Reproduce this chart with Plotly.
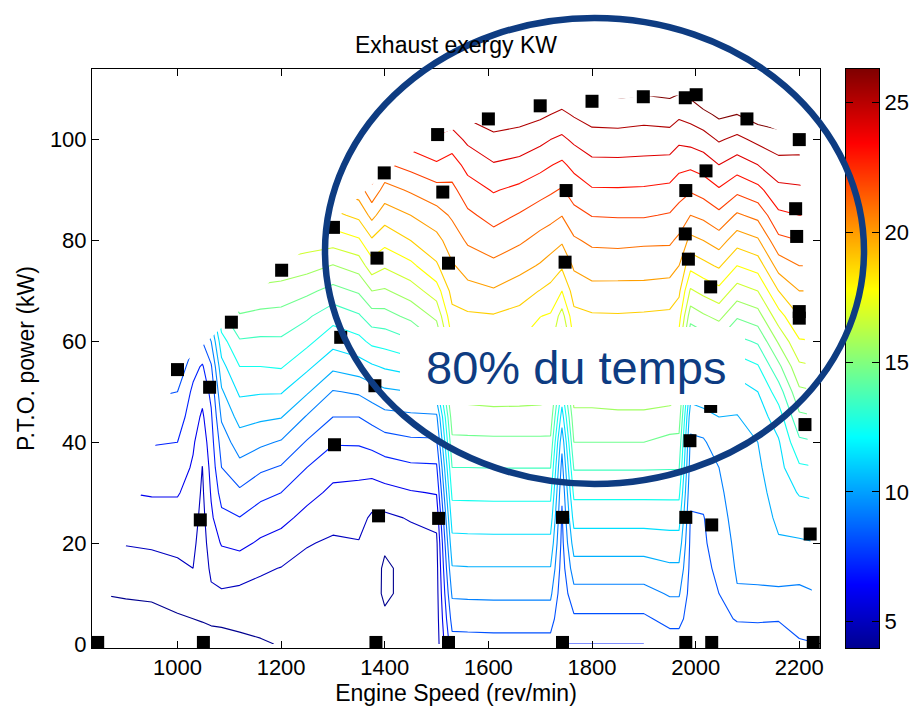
import numpy as np
import plotly.graph_objects as go

# ---------------- data ----------------
# grid of engine speeds (rev/min) and PTO power (kW) for the exergy field
speed_grid = [840, 900, 950, 1000, 1030, 1048, 1065, 1085, 1120, 1160, 1200, 1250,
              1300, 1350, 1375, 1400, 1450, 1500, 1530, 1560, 1610, 1660, 1700, 1720,
              1742, 1765, 1800, 1850, 1900, 1950, 1968, 1990, 2015, 2045, 2080, 2120,
              2160, 2200, 2240]
power_grid = [0, 5, 10, 15, 20, 25, 30, 35, 40, 45, 50, 55, 60, 65, 70, 75, 80, 85,
              90, 95, 100, 105, 110]

# exhaust exergy (kW) estimated at each power_grid value, one list per speed
exergy_by_speed = [
    [3.98, 4.5, 5.0, 5.5, 6.0, 6.5, 7.0, 7.5, 8.0, 8.5, 9.0, 9.5, 10.1, 10.8, 11.5, 12.2, 12.9, 13.6, 14.3, 15.0, 15.7, 16.4, 17.1],
    [4.16, 4.63, 5.10, 5.58, 6.05, 6.52, 7.0, 7.5, 8.0, 8.5, 9.0, 9.6, 10.3, 11.0, 11.7, 12.4, 13.1, 13.8, 14.5, 15.2, 15.9, 16.6, 17.3],
    [4.34, 4.78, 5.11, 5.66, 6.12, 6.6, 7.08, 7.57, 8.07, 8.59, 9.13, 9.75, 10.4, 11.1, 11.8, 12.5, 13.2, 13.9, 14.6, 15.3, 16.0, 16.7, 17.4],
    [4.44, 4.9, 5.36, 5.82, 6.25, 6.66, 7.07, 7.54, 8.0, 8.5, 9.0, 9.83, 10.67, 11.5, 12.3, 13.1, 13.9, 14.7, 15.5, 16.3, 17.1, 17.9, 18.7],
    [4.5, 5.0, 5.5, 6.0, 6.22, 6.43, 6.65, 6.87, 7.13, 7.47, 7.8, 8.33, 9.2, 10.2, 11.1, 12.0, 12.9, 13.8, 14.7, 15.6, 16.5, 17.4, 18.3],
    [4.87, 5.02, 5.2, 5.37, 5.53, 5.68, 5.83, 5.98, 6.39, 6.83, 7.33, 7.89, 9.0, 10.25, 11.4, 12.5, 13.6, 14.7, 15.8, 16.9, 18.0, 19.0, 20.0],
    [4.54, 5.18, 5.82, 6.21, 6.53, 6.82, 7.1, 7.35, 7.6, 7.85, 8.25, 8.88, 10.0, 11.25, 12.4, 13.5, 14.6, 15.7, 16.8, 17.9, 19.0, 20.1, 21.2],
    [4.56, 5.23, 5.89, 6.48, 7.07, 7.73, 8.38, 9.0, 9.44, 10.14, 10.86, 11.67, 12.6, 13.75, 14.8, 15.8, 16.8, 17.8, 18.8, 19.8, 20.8, 21.8, 22.8],
    [4.76, 5.27, 5.78, 6.46, 7.25, 7.97, 8.83, 9.68, 10.53, 11.35, 12.17, 13.0, 13.91, 14.9, 15.9, 17.0, 18.0, 19.0, 20.0, 21.0, 22.0, 23.0, 24.0],
    [4.91, 5.3, 5.69, 6.14, 6.86, 7.53, 8.27, 9.2, 10.2, 11.18, 12.09, 13.0, 13.83, 14.73, 15.7, 16.78, 17.8, 18.9, 20.0, 21.0, 22.0, 23.0, 24.0],
    [5.05, 5.36, 5.67, 5.97, 6.6, 7.29, 8.0, 8.91, 9.9, 11.05, 12.08, 13.08, 13.85, 14.67, 15.58, 16.65, 17.8, 18.9, 20.0, 21.0, 22.0, 23.0, 24.0],
    [5.2, 5.35, 5.5, 5.73, 6.06, 6.69, 7.33, 8.0, 8.91, 9.9, 11.13, 12.22, 13.26, 14.15, 15.22, 16.38, 17.57, 18.9, 20.0, 21.0, 22.0, 23.0, 24.0],
    [5.3, 5.4, 5.55, 5.7, 5.88, 6.26, 6.79, 7.33, 8.09, 9.0, 9.93, 11.23, 12.35, 13.39, 14.67, 15.95, 17.42, 18.74, 20.0, 21.2, 22.4, 23.5, 24.6],
    [5.35, 5.45, 5.55, 5.75, 5.95, 6.32, 6.72, 7.29, 8.12, 9.0, 10.14, 11.57, 12.7, 13.88, 15.13, 16.43, 17.86, 19.25, 20.5, 21.75, 23.0, 24.0, 25.0],
    [5.3, 5.35, 5.4, 5.45, 5.6, 5.85, 6.54, 7.36, 8.3, 9.33, 10.5, 11.86, 13.25, 14.57, 16.0, 17.57, 18.86, 20.29, 21.71, 23.0, 24.25, 25.5, 26.7],
    [5.3, 5.15, 4.85, 4.85, 5.15, 5.8, 6.67, 7.57, 8.57, 9.67, 10.81, 12.12, 13.38, 14.63, 15.88, 17.13, 18.33, 19.44, 20.63, 21.88, 23.13, 24.38, 25.6],
    [5.4, 5.3, 5.3, 5.3, 5.6, 6.08, 6.92, 7.82, 8.8, 9.8, 11.0, 12.43, 13.86, 15.25, 16.5, 17.75, 19.0, 20.0, 21.13, 22.33, 23.5, 24.75, 26.0],
    [5.5, 5.55, 5.6, 5.65, 5.8, 6.3, 7.06, 7.86, 8.84, 9.8, 11.6, 13.33, 15.0, 16.23, 17.52, 18.87, 19.68, 20.62, 21.62, 22.88, 23.82, 24.8, 25.8],
    [8.62, 9.38, 10.15, 10.92, 11.69, 12.46, 13.23, 14.0, 14.77, 15.54, 16.33, 17.17, 18.0, 18.71, 19.33, 19.89, 20.5, 21.13, 21.75, 22.55, 23.56, 24.6, 25.6],
    [8.63, 9.41, 10.18, 10.95, 11.72, 12.48, 13.24, 14.0, 14.78, 15.59, 16.42, 17.25, 18.08, 18.85, 19.67, 20.43, 21.13, 21.8, 22.54, 23.33, 24.2, 25.2, 26.2],
    [8.66, 9.43, 10.2, 10.95, 11.73, 12.5, 13.26, 14.02, 14.8, 15.65, 16.5, 17.31, 18.08, 18.92, 19.9, 20.75, 21.58, 22.36, 23.08, 23.92, 24.75, 25.58, 26.4],
    [8.66, 9.43, 10.2, 10.95, 11.73, 12.5, 13.26, 14.02, 14.8, 15.65, 16.46, 17.23, 18.0, 18.67, 19.45, 20.33, 21.15, 21.92, 22.75, 23.73, 24.55, 25.45, 26.3],
    [8.66, 9.43, 10.2, 10.95, 11.73, 12.5, 13.26, 14.02, 14.8, 15.65, 16.38, 17.0, 17.51, 18.02, 18.96, 19.91, 20.68, 21.48, 22.36, 23.3, 24.25, 25.2, 26.2],
    [8.66, 9.43, 10.2, 10.95, 11.73, 12.5, 13.26, 14.02, 14.8, 15.6, 16.3, 16.9, 17.4, 17.9, 18.7, 19.6, 20.45, 21.3, 22.15, 23.05, 24.0, 25.0, 26.0],
    [8.0, 8.17, 8.35, 8.52, 8.7, 8.87, 9.14, 9.63, 10.3, 11.5, 12.75, 14.0, 15.25, 16.57, 18.0, 19.16, 20.14, 21.03, 21.91, 22.82, 23.8, 24.8, 25.8],
    [8.0, 8.83, 9.67, 10.57, 11.48, 12.37, 13.24, 14.09, 15.0, 15.71, 16.5, 17.31, 18.07, 18.73, 19.43, 20.14, 20.86, 21.67, 22.46, 23.27, 24.18, 25.1, 26.0],
    [8.0, 8.83, 9.67, 10.57, 11.48, 12.37, 13.24, 14.09, 15.0, 15.71, 16.5, 17.31, 18.08, 18.89, 19.7, 20.46, 21.2, 22.04, 22.91, 23.74, 24.57, 25.44, 26.3],
    [8.0, 8.83, 9.67, 10.57, 11.48, 12.37, 13.24, 14.09, 15.0, 15.77, 16.58, 17.42, 18.15, 18.92, 19.69, 20.46, 21.25, 22.08, 22.92, 23.75, 24.61, 25.48, 26.3],
    [8.0, 8.83, 9.67, 10.57, 11.48, 12.37, 13.24, 14.09, 15.0, 15.77, 16.58, 17.42, 18.08, 18.86, 19.7, 20.42, 21.17, 22.09, 22.88, 23.72, 24.52, 25.36, 26.2],
    [8.5, 9.32, 10.1, 10.83, 11.59, 12.4, 13.24, 14.07, 14.73, 15.6, 16.5, 17.33, 18.07, 18.79, 19.58, 20.38, 21.15, 21.92, 22.75, 23.64, 24.54, 25.49, 26.3],
    [8.5, 9.32, 10.1, 10.83, 11.59, 12.4, 13.24, 14.07, 14.73, 15.5, 16.2, 16.9, 17.6, 18.4, 19.2, 20.0, 20.8, 21.6, 22.4, 23.3, 24.2, 25.2, 26.2],
    [8.4, 8.5, 8.6, 8.7, 8.8, 8.93, 9.19, 9.5, 9.81, 10.4, 11.5, 12.75, 14.0, 15.43, 16.86, 18.29, 19.71, 21.0, 22.11, 23.22, 24.33, 25.4, 26.4],
    [8.4, 8.52, 8.64, 8.76, 8.88, 8.96, 9.25, 9.56, 9.88, 10.6, 11.75, 13.0, 14.43, 15.86, 17.29, 18.71, 20.0, 21.25, 22.4, 23.44, 24.56, 25.75, 27.0],
    [8.45, 8.72, 9.0, 9.2, 9.4, 9.6, 9.8, 10.0, 10.5, 11.0, 12.13, 13.43, 14.86, 16.29, 17.71, 19.14, 20.5, 21.75, 22.89, 24.0, 25.11, 26.2, 27.2],
    [8.4, 9.08, 9.92, 10.12, 10.26, 10.4, 10.53, 10.66, 10.81, 10.95, 11.5, 12.44, 13.71, 15.14, 16.57, 18.0, 19.43, 20.86, 22.25, 23.5, 24.75, 26.0, 27.2],
    [8.3, 9.13, 9.92, 10.15, 10.32, 10.49, 10.66, 10.83, 11.0, 11.5, 12.0, 12.91, 14.14, 15.57, 17.0, 18.43, 19.86, 21.29, 22.71, 24.0, 25.25, 26.5, 27.7],
    [8.3, 9.08, 9.85, 10.4, 10.9, 11.19, 11.43, 11.67, 11.9, 12.5, 13.5, 14.75, 16.14, 17.57, 19.0, 20.43, 21.75, 22.8, 23.73, 24.64, 25.6, 26.6, 27.6],
    [8.9, 9.36, 9.82, 10.33, 10.89, 11.47, 12.08, 12.85, 13.8, 14.8, 15.8, 16.8, 17.89, 19.0, 20.0, 21.0, 22.0, 23.0, 23.83, 24.67, 25.5, 26.3, 27.0],
    [9.0, 9.5, 10.0, 10.5, 11.0, 11.6, 12.2, 13.0, 14.0, 15.0, 16.0, 17.0, 18.0, 19.0, 20.0, 21.0, 22.0, 23.0, 24.0, 25.0, 26.0, 27.0, 28.0],
]

# measured operating points (black squares)
test_speed = [846, 1050, 1383, 1523, 1743, 1981, 2031, 2227,
              1000, 1062, 1104, 1201, 1301, 1315, 1303, 1044, 1381, 1385, 1388,
              1399, 1502, 1504, 1512, 1523, 1600, 1700, 1743, 1748, 1750, 1800,
              1899, 1980, 2001, 1981, 1980, 1986, 1981, 1989, 2020, 2029, 2029,
              2031, 2099, 2200, 2193, 2195, 2200, 2200, 2211, 2221]
test_power = [0.3, 0.3, 0.3, 0.3, 0.3, 0.3, 0.3, 0.3,
              54.4, 50.9, 63.8, 74.1, 82.6, 60.8, 39.5, 24.6, 51.2, 76.5, 25.4,
              93.4, 101.0, 24.9, 89.6, 75.5, 104.1, 106.7, 25.1, 75.7, 89.9, 107.6,
              108.5, 108.3, 108.9, 89.9, 81.3, 76.3, 25.1, 40.3, 93.8, 70.8, 47.1,
              23.6, 104.1, 100.0, 86.3, 80.8, 65.9, 64.6, 43.5, 21.8]

x_ticks = [1000, 1200, 1400, 1600, 1800, 2000, 2200]
y_ticks = [0, 20, 40, 60, 80, 100]
cbar_ticks = [5, 10, 15, 20, 25]
z_lo, z_hi = 3.98, 26.3
levels_start, levels_end, levels_step = 5, 26, 1

X_RANGE = [835, 2240]
Y_RANGE = [-0.8, 114]

# MATLAB "jet" colormap
jet = [[0.0, 'rgb(0,0,143)'], [0.111, 'rgb(0,0,255)'], [0.365, 'rgb(0,255,255)'],
       [0.619, 'rgb(255,255,0)'], [0.873, 'rgb(255,0,0)'], [1.0, 'rgb(128,0,0)']]

FONT = "Arial, 'Liberation Sans', Helvetica, sans-serif"
NAVY = '#0e3c82'

z = np.array(exergy_by_speed).T  # rows = power, cols = speed

# convex hull (upper chain) of the measured points = interpolation domain
pts = sorted(set(zip(test_speed, test_power)))
def cross(o, a, b):
    return (a[0] - o[0]) * (b[1] - o[1]) - (a[1] - o[1]) * (b[0] - o[0])
upper = []
for p in pts:
    while len(upper) >= 2 and cross(upper[-2], upper[-1], p) >= 0:
        upper.pop()
    upper.append(p)
hull_x = [p[0] for p in upper]
hull_y = [p[1] for p in upper]
mask_x = [X_RANGE[0]] + hull_x + [X_RANGE[1], X_RANGE[1], X_RANGE[0], X_RANGE[0]]
mask_y = [hull_y[0]] + hull_y + [hull_y[-1], Y_RANGE[1], Y_RANGE[1], hull_y[0]]

fig = go.Figure()

fig.add_trace(go.Contour(
    x=speed_grid, y=power_grid, z=z,
    colorscale=jet, zmin=z_lo, zmax=z_hi,
    autocontour=False,
    contours=dict(start=levels_start, end=levels_end, size=levels_step, coloring='lines'),
    line=dict(width=1.1, smoothing=0),
    showscale=False, hoverinfo='skip', xaxis='x', yaxis='y'))

# blank outside the data hull (MATLAB griddata leaves it empty)
fig.add_trace(go.Scatter(x=mask_x, y=mask_y, mode='lines', fill='toself',
                         fillcolor='white', line=dict(width=0, color='white'),
                         hoverinfo='skip', showlegend=False, xaxis='x', yaxis='y'))

fig.add_trace(go.Scatter(x=test_speed, y=test_power, mode='markers',
                         marker=dict(symbol='square', size=13, color='black',
                                     line=dict(width=0)),
                         showlegend=False, hoverinfo='skip', xaxis='x', yaxis='y'))

# colour bar drawn as a small heatmap so the annotation ellipse can pass over it
cbar_vals = [z_lo] + list(range(levels_start, levels_end + 1)) + [z_hi]
fig.add_trace(go.Heatmap(x=[0, 1], y=cbar_vals, z=[[v, v] for v in cbar_vals],
                         colorscale=jet, zmin=z_lo, zmax=z_hi, zsmooth='best',
                         showscale=False, hoverinfo='skip', xaxis='x2', yaxis='y2'))

W, H = 911, 706
ML, MR, MT, MB = 92, 32, 69, 58
PW = W - ML - MR   # 787
PH = H - MT - MB   # 579

def px(xp):
    return (xp - ML) / PW
def py(yp):
    return (H - MB - yp) / PH

axis_common = dict(showline=True, linecolor='black', linewidth=1, mirror='allticks',
                   ticks='inside', ticklen=7, tickcolor='black', showgrid=False,
                   zeroline=False, automargin=False,
                   tickfont=dict(family=FONT, size=22, color='black'))

fig.update_layout(
    template='none',
    width=W, height=H,
    margin=dict(l=ML, r=MR, t=MT, b=MB, pad=0, autoexpand=False),
    paper_bgcolor='white', plot_bgcolor='white',
    showlegend=False,
    font=dict(family=FONT, color='black'),
    title=dict(text='Exhaust exergy KW', x=456 / W, xanchor='center',
               y=(H - 45) / H, yanchor='middle',
               font=dict(family=FONT, size=23, color='black')),
    xaxis=dict(domain=[0, px(820)], range=X_RANGE, tickvals=x_ticks,
               title=dict(text='Engine Speed (rev/min)', font=dict(family=FONT, size=23),
                          standoff=4),
               **axis_common),
    yaxis=dict(domain=[0, 1], range=Y_RANGE, tickvals=y_ticks,
               title=dict(text='P.T.O. power (kW)', font=dict(family=FONT, size=23),
                          standoff=8),
               **axis_common),
    xaxis2=dict(domain=[px(846), 1], range=[0, 1], anchor='y2', showticklabels=False,
                ticks='', showline=True, linecolor='black', linewidth=1, mirror=True,
                showgrid=False, zeroline=False, automargin=False),
    yaxis2=dict(domain=[0, 1], range=[z_lo, z_hi], anchor='x2', side='right',
                tickvals=cbar_ticks, **axis_common),
)

# white label box + text
fig.add_shape(type='rect', xref='paper', yref='paper',
              x0=px(400), x1=px(745), y0=py(405), y1=py(327),
              fillcolor='white', line=dict(width=0), layer='above')
fig.add_annotation(text='80% du temps', xref='paper', yref='paper',
                   x=px(575.5), y=py(367.5), xanchor='center', yanchor='middle',
                   showarrow=False, font=dict(family=FONT, size=47, color=NAVY))
# highlighting ellipse
fig.add_shape(type='circle', xref='paper', yref='paper',
              x0=px(325), x1=px(864), y0=py(484), y1=py(18),
              line=dict(color=NAVY, width=6.5), fillcolor='rgba(0,0,0,0)', layer='above')

# place the 911x706 figure at the page origin (no default body margin), no toolbar
fig.write_html('out.html',
               config={'displayModeBar': False},
               post_script="document.body.style.margin='0';"
                           "document.body.style.overflow='hidden';")
